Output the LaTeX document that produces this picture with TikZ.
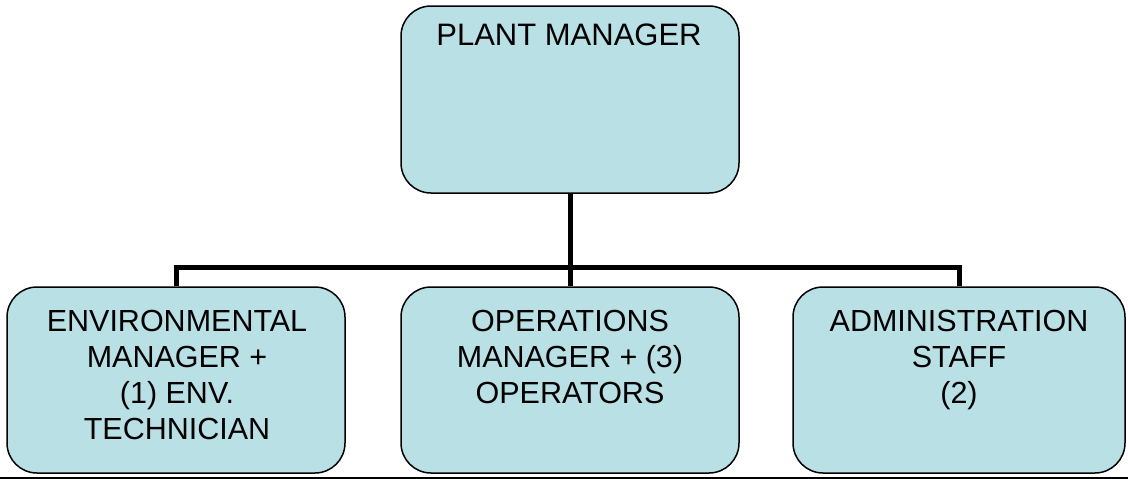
\documentclass[tikz,border=0pt]{standalone}
\usepackage{fontspec}
\setmainfont{Liberation Sans}
\definecolor{boxfill}{RGB}{185,224,229}
\tikzset{
  orgbox/.style={draw=black, line width=1.5pt, fill=boxfill, rounded corners=30pt, inner sep=0pt},
  orgtext/.style={inner sep=0pt, align=center, anchor=north, font=\fontsize{30.5}{36}\selectfont},
  link/.style={draw=black, line width=5pt},
}
\begin{document}
\begin{tikzpicture}[x=1pt,y=-1pt]
\useasboundingbox (0,0) rectangle (1128,479);
\node[orgbox, minimum width=338pt, minimum height=187pt] (top) at (570,99.5) {};
\node[orgbox, minimum width=338pt, minimum height=186pt] (left) at (176,380) {};
\node[orgbox, minimum width=338pt, minimum height=186pt] (mid) at (570,380) {};
\node[orgbox, minimum width=332pt, minimum height=186pt] (right) at (959,380) {};
\node[orgtext, font=\fontsize{31}{36}\selectfont] (toptext) at (569,24) {PLANT MANAGER};
\node[orgtext] (lefttext) at (177,310) {ENVIRONMENTAL\\MANAGER +\\(1) ENV.\\TECHNICIAN};
\node[orgtext] (midtext) at (570,310) {OPERATIONS\\MANAGER + (3)\\OPERATORS};
\node[orgtext] (righttext) at (959,310) {ADMINISTRATION\\STAFF\\(2)};
\coordinate (j) at (570,267);
\draw[link] (top.south) -- (j) -- (mid.north);
\draw[link] (left.north) |- (j) -| (right.north);
\coordinate (bl) at (0,478);
\coordinate (br) at (1128,478);
\draw[line width=1.5pt] (bl) -- (br);
\end{tikzpicture}
\end{document}
